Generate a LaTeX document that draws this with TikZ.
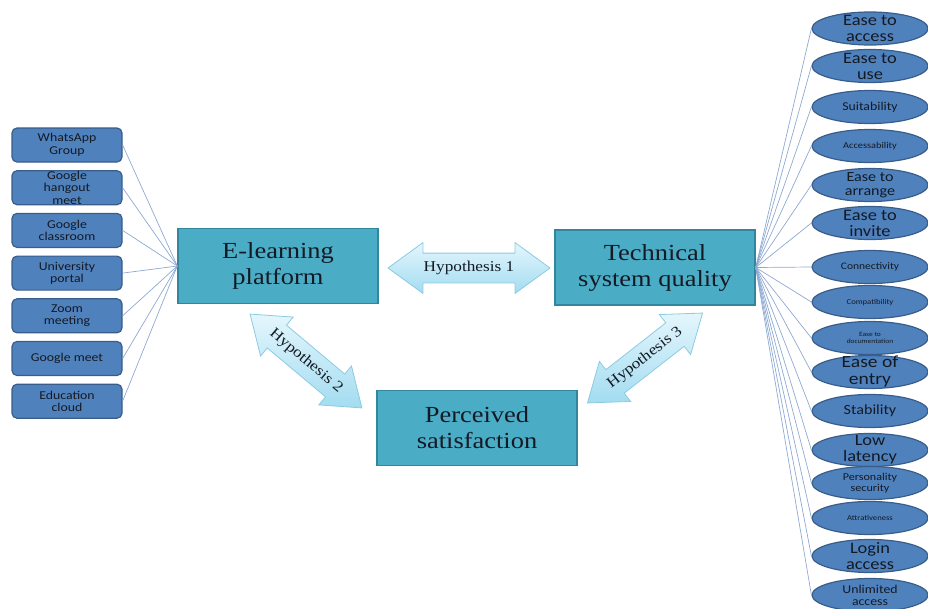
\documentclass[tikz,border=0pt]{standalone}
\usepackage{fontspec}
\setmainfont{Liberation Serif}[FakeStretch=1.15]
\newfontfamily\calfont{Carlito}[FakeStretch=1.15]
\usetikzlibrary{positioning,shapes.geometric,shapes.arrows}

\definecolor{appblue}{HTML}{4F81BD}
\definecolor{appedge}{HTML}{385D8A}
\definecolor{boxteal}{HTML}{4BACC6}
\definecolor{tealedge}{HTML}{31859C}
\definecolor{hyplight}{HTML}{E4F6FC}
\definecolor{hypdark}{HTML}{A3DCF1}
\definecolor{hypedge}{HTML}{8CCBE2}
\definecolor{linkblue}{HTML}{8EA9D2}
\definecolor{inkdark}{HTML}{141A24}

\newcommand{\fsz}[2]{\fontsize{#1}{#2}\selectfont}

\begin{document}
\begin{tikzpicture}[x=1pt,y=-1pt,
	app/.style={rectangle,rounded corners=5pt,fill=appblue,draw=appedge,line width=1.2pt,
		minimum width=110pt,minimum height=34pt,inner sep=0pt,align=center,
		font=\calfont\fsz{12}{12.5},text=inkdark},
	mainbox/.style={rectangle,fill=boxteal,draw=tealedge,line width=1.4pt,
		minimum width=200pt,minimum height=75pt,align=center,font=\fsz{23}{26},text=inkdark},
	crit/.style={ellipse,fill=appblue,draw=appedge,line width=1.2pt,
		minimum width=116pt,minimum height=33pt,inner sep=0pt},
	crittext/.style={align=center,inner sep=0pt,text=inkdark},
	hyp/.style={double arrow,draw=hypedge,line width=0.8pt,top color=hyplight,bottom color=hypdark,
		double arrow head extend=10.5pt,double arrow tip angle=72,inner xsep=0pt,
		inner ysep=8pt,text height=10pt,text depth=3pt,font=\fsz{15}{15},text=inkdark},
	link/.style={draw=linkblue,line width=0.7pt}]
	\useasboundingbox (0,0) rectangle (928,608);

	% central constructs
	\node[mainbox] (el) at (278,266) {E-learning\\platform};
	\node[mainbox] (tech) at (655,267.5) {Technical\\system quality};
	\node[mainbox] (perc) at (477,428) {Perceived\\satisfaction};

	% hypotheses
	\node[hyp,minimum height=162pt] (h1) at (469,268) {Hypothesis 1};
	\node[hyp,minimum height=146pt,rotate=-40] (h2) at (306,361) {Hypothesis 2};
	\node[hyp,minimum height=146pt,rotate=38] (h3) at (645,358) {Hypothesis 3};

	% platforms
	\node[app] (wa) at (67,145) {WhatsApp\\Group};
	\node[app,below=7.5pt of wa] (gh) {Google\\hangout\\meet};
	\node[app,below=7.5pt of gh] (gc) {Google\\classroom};
	\node[app,below=7.5pt of gc] (up) {University\\portal};
	\node[app,below=7.5pt of up] (zm) {Zoom\\meeting};
	\node[app,below=7.5pt of zm] (gm) {Google meet};
	\node[app,below=7.5pt of gm] (ec) {Education\\cloud};
	\foreach \a in {wa,gh,gc,up,zm,gm,ec}
		\draw[link] (\a.east) -- (el.west);

	% quality criteria
	\foreach \n/\y/\s/\t in {c1/28.5/16/{Ease to\\access},c2/66/16/{Ease to\\use},
		c3/107/12/Suitability,c4/146/9/Accessability,c5/185/14/{Ease to\\arrange},
		c6/223/16/{Ease to\\invite},c7/267/10/Connectivity,c8/302/7.5/Compatibility,
		c9/338/6.5/{Ease to\\documentation},c10/372/17/{Ease of\\entry},c11/411/14/Stability,
		c12/450/16/{Low\\latency},c13/483/10.5/{Personality\\security},
		c14/518/7.5/Attrativeness,c15/556/16/{Login\\access},c16/595/12/{Unlimited\\access}}{
		\node[crit] (\n) at (870,\y) {};
		\node[crittext,font=\calfont\fsz{\s}{\s}] (\n-t) at (\n) {\t};
		\draw[link] (tech.east) -- (\n.west);
	}
\end{tikzpicture}
\end{document}
